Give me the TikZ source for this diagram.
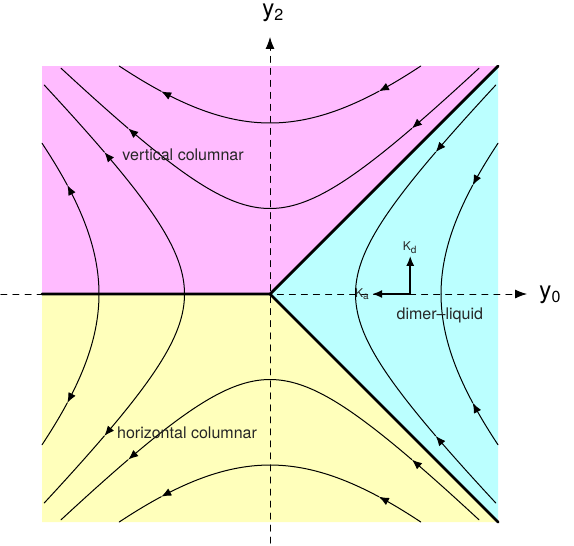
\documentclass[tikz,border=0pt]{standalone}
\usepackage{fontspec}
\setmainfont{TeX Gyre Heros}
\usetikzlibrary{arrows.meta}
\definecolor{vcpink}{RGB}{255,187,255}
\definecolor{dlcyan}{RGB}{187,255,255}
\definecolor{hcyellow}{RGB}{255,255,187}

\begin{document}
\begin{tikzpicture}[line cap=round, line join=round,
    flow/.style={line width=0.5pt},
    tip/.style={-{Latex[length=5pt,width=4pt]}},
    phase/.style={line width=1.4pt},
    axis/.style={dashed, line width=0.5pt, -{Latex[length=6pt,width=4.5pt]}},
    kvec/.style={line width=0.9pt, -{Latex[length=5pt,width=4pt]}},
    region/.style={font=\fontsize{8}{9}\selectfont, text=black!85},
    klabel/.style={font=\fontsize{6}{7}\selectfont, text=black!85, inner sep=1pt},
    axlabel/.style={font=\fontsize{12}{13}\selectfont, inner sep=1pt}]
  \useasboundingbox (-4.737,-4.404) rectangle (5.333,5.158);
  % phase regions
  \fill[vcpink] (-4,0) -- (-4,4) -- (4,4) -- (0,0) -- cycle;
  \fill[dlcyan] (0,0) -- (4,4) -- (4,-4) -- cycle;
  \fill[hcyellow] (-4,0) -- (0,0) -- (4,-4) -- (-4,-4) -- cycle;
  % axes
  \coordinate (o) at (0,0);
  \coordinate (xs) at (-4.72,0);
  \coordinate (xe) at (4.51,0);
  \coordinate (ys) at (0,-4.37);
  \coordinate (ye) at (0,4.51);
  \draw[axis] (xs) -- (xe);
  \draw[axis] (ys) -- (ye);
  \node[axlabel] (y0) at (4.92,-0.02) {y\textsubscript{0}};
  \node[axlabel] (y2) at (0.06,4.93) {y\textsubscript{2}};
  % flow lines
  \foreach \a/\tm/\ta in {1.5/1.6264/1.28, 3/0.7954/0.6} {
    \foreach \s in {1,-1} {
      % columnar branches, right to left
      \draw[flow,tip] plot[smooth,samples=25,domain=\tm:\ta] ({\a*sinh(\x)},{\s*\a*cosh(\x)});
      \draw[flow,tip] plot[smooth,samples=40,domain=\ta:-\ta] ({\a*sinh(\x)},{\s*\a*cosh(\x)});
      \draw[flow] plot[smooth,samples=25,domain=-\ta:-\tm] ({\a*sinh(\x)},{\s*\a*cosh(\x)});
      % left branches, away from the axis
      \draw[flow,tip] plot[smooth,samples=25,domain=0:\ta] ({-\a*cosh(\x)},{\s*\a*sinh(\x)});
      \draw[flow] plot[smooth,samples=25,domain=\ta:\tm] ({-\a*cosh(\x)},{\s*\a*sinh(\x)});
      % right branches, toward the axis
      \draw[flow,tip] plot[smooth,samples=25,domain=\tm:\ta] ({\a*cosh(\x)},{\s*\a*sinh(\x)});
      \draw[flow] plot[smooth,samples=25,domain=\ta:0] ({\a*cosh(\x)},{\s*\a*sinh(\x)});
    }
  }
  % phase boundaries
  \draw[phase] (-4,0) -- (o) -- (4,4);
  \draw[phase] (o) -- (4,-4);
  % couplings
  \coordinate (k) at (2.46,0);
  \coordinate (kd) at (2.46,0.67);
  \coordinate (ka) at (1.79,0);
  \draw[kvec] (k) -- (kd);
  \draw[kvec] (k) -- (ka);
  \node[klabel,above] (kdl) at (kd) {K\textsubscript{d}};
  \node[klabel,left] (kal) at (ka) {K\textsubscript{a}};
  % labels
  \node[region] (vc) at (-1.526,2.439) {vertical columnar};
  \node[region] (hc) at (-1.456,-2.439) {horizontal columnar};
  \node[region] (dl) at (2.98,-0.368) {dimer--liquid};
\end{tikzpicture}
\end{document}
